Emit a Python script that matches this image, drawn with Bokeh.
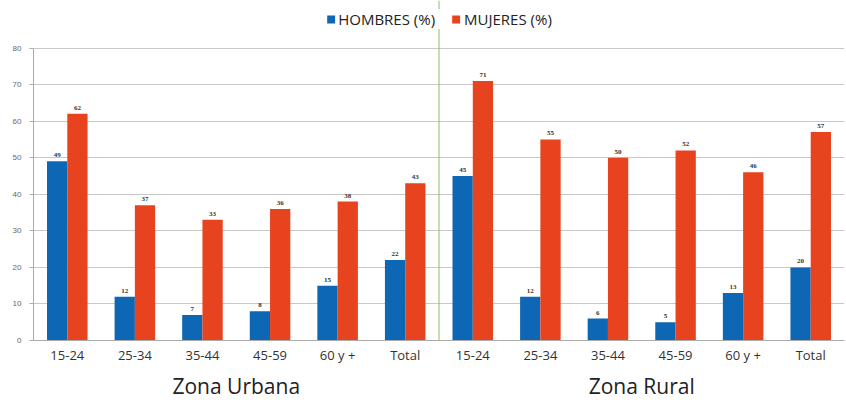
from bokeh.plotting import figure
from bokeh.models import ColumnDataSource, FactorRange, LabelSet, Span, Legend, LegendItem, FixedTicker
from bokeh.transform import dodge
from bokeh.embed import file_html
from bokeh.resources import INLINE

zones = ["Zona Urbana", "Zona Rural"]
ages = ["15-24", "25-34", "35-44", "45-59", "60 y +", "Total"]
hombres_urbana = [49, 12, 7, 8, 15, 22]
mujeres_urbana = [62, 37, 33, 36, 38, 43]
hombres_rural = [45, 12, 6, 5, 13, 20]
mujeres_rural = [71, 55, 50, 52, 46, 57]

x = [(z, a) for z in zones for a in ages]
hombres = hombres_urbana + hombres_rural
mujeres = mujeres_urbana + mujeres_rural
src = ColumnDataSource(dict(x=x, h=hombres, m=mujeres,
                            hl=[str(v) for v in hombres], ml=[str(v) for v in mujeres]))

BLUE = "#0e67b4"
RED = "#e8431f"

p = figure(width=846, height=402, output_backend="svg", toolbar_location=None,
           x_range=FactorRange(*x, group_padding=0, factor_padding=0, range_padding=0),
           y_range=(0, 93.0), min_border_left=33, min_border_right=2, min_border_top=0,
           min_border_bottom=0)

hb = p.vbar(x=dodge("x", -0.15, range=p.x_range), top="h", width=0.3, source=src,
            fill_color=BLUE, line_color=None)
mb = p.vbar(x=dodge("x", 0.15, range=p.x_range), top="m", width=0.3, source=src,
            fill_color=RED, line_color=None)

for col, lab, off in (("h", "hl", -0.15), ("m", "ml", 0.15)):
    p.add_layout(LabelSet(x=dodge("x", off, range=p.x_range), y=col, text=lab, source=src,
                          text_align="center", text_baseline="bottom", y_offset=4,
                          text_font_size="7px", text_font_style="bold", text_color="#333333",
                          text_font="DejaVu Sans"))

p.add_layout(Span(location=6, dimension="height", line_color="#8cbf6a", line_width=1))

legend = Legend(items=[LegendItem(label="HOMBRES (%)", renderers=[hb]),
                       LegendItem(label="MUJERES (%)", renderers=[mb])],
                orientation="horizontal", location="top_center",
                label_text_font="Open Sans", label_text_font_size="15px",
                label_text_color="#222222", glyph_width=10, glyph_height=10,
                spacing=16, border_line_color=None, background_fill_color="white",
                background_fill_alpha=1, padding=3, margin=9, label_standoff=3)
p.add_layout(legend)

p.outline_line_color = None
p.xgrid.grid_line_color = None
p.ygrid.grid_line_color = "#c8c8c8"
p.yaxis.ticker = FixedTicker(ticks=list(range(0, 81, 10)))
p.yaxis.bounds = (0, 80)
p.yaxis.major_label_text_font_size = "8px"
p.yaxis.major_label_text_color = "#666666"
p.yaxis.major_label_standoff = 8
p.yaxis.axis_line_color = "#aaaaaa"
p.yaxis.major_tick_line_color = "#aaaaaa"
p.yaxis.major_tick_out = 4
p.yaxis.major_tick_in = 0
p.yaxis.minor_tick_line_color = None

p.xaxis.axis_line_color = "#aaaaaa"
p.xaxis.major_tick_line_color = None
p.xaxis.major_tick_out = 0
p.xaxis.major_tick_in = 0
p.xaxis.major_label_standoff = 5
p.xaxis.major_label_text_font = "Open Sans"
p.xaxis.major_label_text_font_size = "13px"
p.xaxis.major_label_text_color = "#333333"
p.xaxis.group_text_font = "Open Sans"
p.xaxis.group_text_font_size = "21px"
p.xaxis.group_text_font_style = "normal"
p.xaxis.group_text_color = "#222222"
p.xaxis.separator_line_color = None

open("out.html", "w").write(file_html(p, INLINE))
